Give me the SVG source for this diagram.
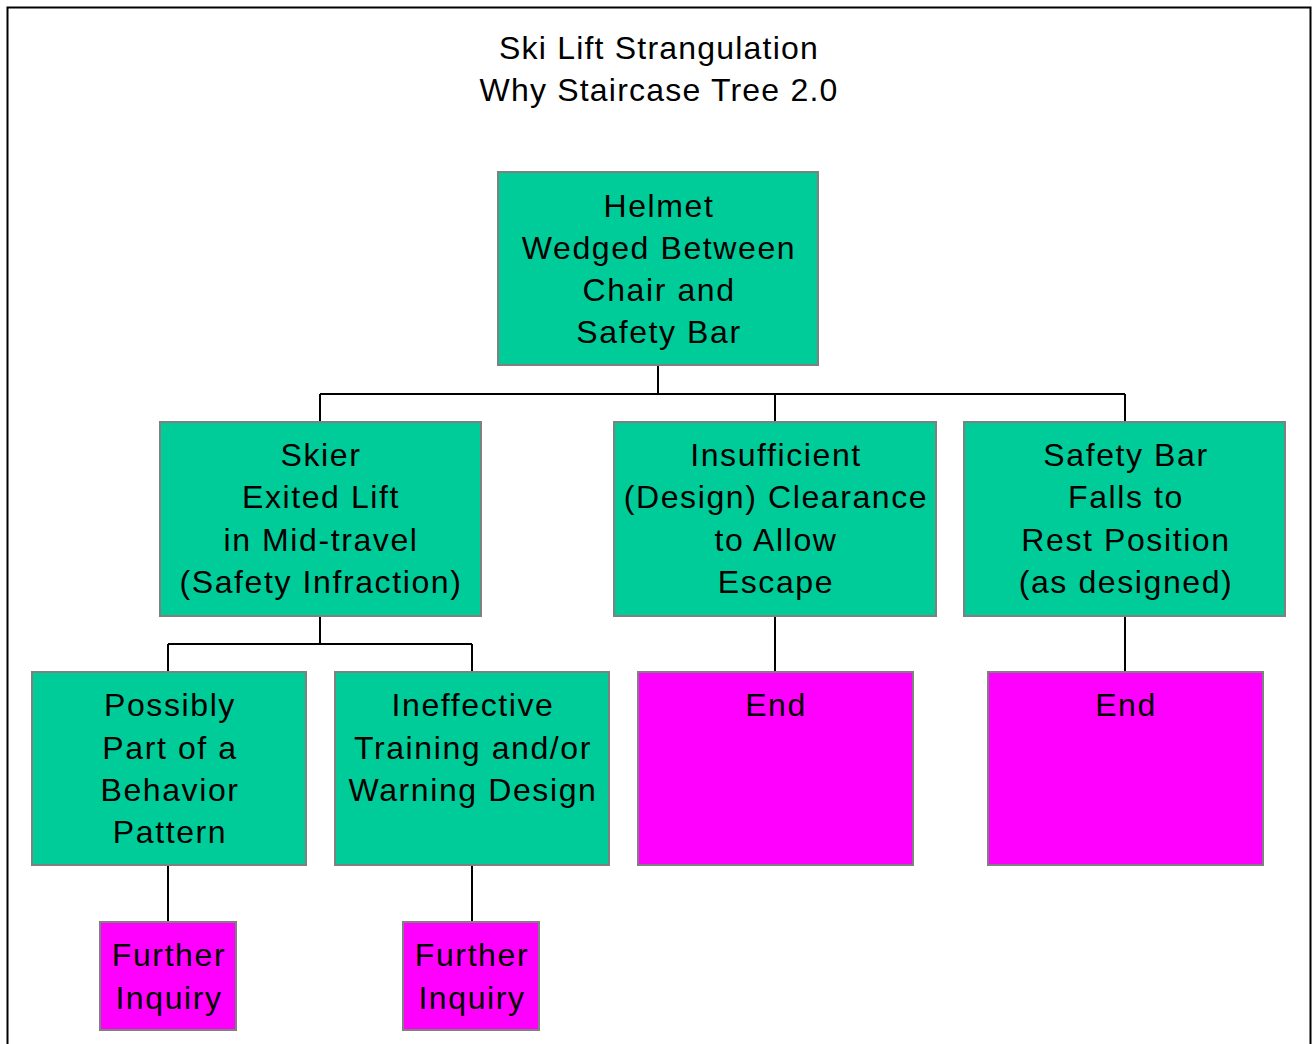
<svg xmlns="http://www.w3.org/2000/svg" width="1313" height="1044" viewBox="0 0 1313 1044">
<style>
.g{fill:#00CC99;stroke:#808080;stroke-width:2}
.m{fill:#FF00FF;stroke:#808080;stroke-width:2}
text{font-family:"Liberation Sans",Arial,sans-serif;font-size:32px;fill:#000;text-anchor:middle;letter-spacing:1.6px}
.c{fill:none;stroke:#000;stroke-width:2}
</style>
<rect x="0" y="0" width="1313" height="1044" fill="#fff"/>
<rect x="7.5" y="7.5" width="1303" height="1060" fill="none" stroke="#000" stroke-width="2"/>
<g id="title">
<text x="659" y="59" style="letter-spacing:1.2px">Ski Lift Strangulation</text>
<text x="659" y="101" style="letter-spacing:1.2px">Why Staircase Tree 2.0</text>
</g>
<g id="connectors">
<path class="c" d="M658 365V394M320 394H1125M320 394V422M775 394V422M1125 394V422"/>
<path class="c" d="M320 616V644M168 644H472M168 644V672M472 644V672"/>
<path class="c" d="M775 616V672M1125 616V672"/>
<path class="c" d="M168 865V922M472 865V922"/>
</g>
<g id="root">
<rect class="g" x="498" y="172" width="320" height="193"/>
<text x="659" y="217">Helmet</text>
<text x="659" y="259">Wedged Between</text>
<text x="659" y="301">Chair and</text>
<text x="659" y="343">Safety Bar</text>
</g>
<g id="skier">
<rect class="g" x="160" y="422" width="321" height="194"/>
<text x="321" y="466">Skier</text>
<text x="321" y="508">Exited Lift</text>
<text x="321" y="551">in Mid-travel</text>
<text x="321" y="593">(Safety Infraction)</text>
</g>
<g id="insufficient">
<rect class="g" x="614" y="422" width="322" height="194"/>
<text x="776" y="466">Insufficient</text>
<text x="776" y="508">(Design) Clearance</text>
<text x="776" y="551">to Allow</text>
<text x="776" y="593">Escape</text>
</g>
<g id="safetybar">
<rect class="g" x="964" y="422" width="321" height="194"/>
<text x="1126" y="466">Safety Bar</text>
<text x="1126" y="508">Falls to</text>
<text x="1126" y="551">Rest Position</text>
<text x="1126" y="593">(as designed)</text>
</g>
<g id="possibly">
<rect class="g" x="32" y="672" width="274" height="193"/>
<text x="170" y="716">Possibly</text>
<text x="170" y="759">Part of a</text>
<text x="170" y="801">Behavior</text>
<text x="170" y="843">Pattern</text>
</g>
<g id="ineffective">
<rect class="g" x="335" y="672" width="274" height="193"/>
<text x="473" y="716">Ineffective</text>
<text x="473" y="759">Training and/or</text>
<text x="473" y="801">Warning Design</text>
</g>
<g id="end1">
<rect class="m" x="638" y="672" width="275" height="193"/>
<text x="776" y="716">End</text>
</g>
<g id="end2">
<rect class="m" x="988" y="672" width="275" height="193"/>
<text x="1126" y="716">End</text>
</g>
<g id="further1">
<rect class="m" x="100" y="922" width="136" height="108"/>
<text x="169" y="966">Further</text>
<text x="169" y="1009">Inquiry</text>
</g>
<g id="further2">
<rect class="m" x="403" y="922" width="136" height="108"/>
<text x="472" y="966">Further</text>
<text x="472" y="1009">Inquiry</text>
</g>
</svg>
